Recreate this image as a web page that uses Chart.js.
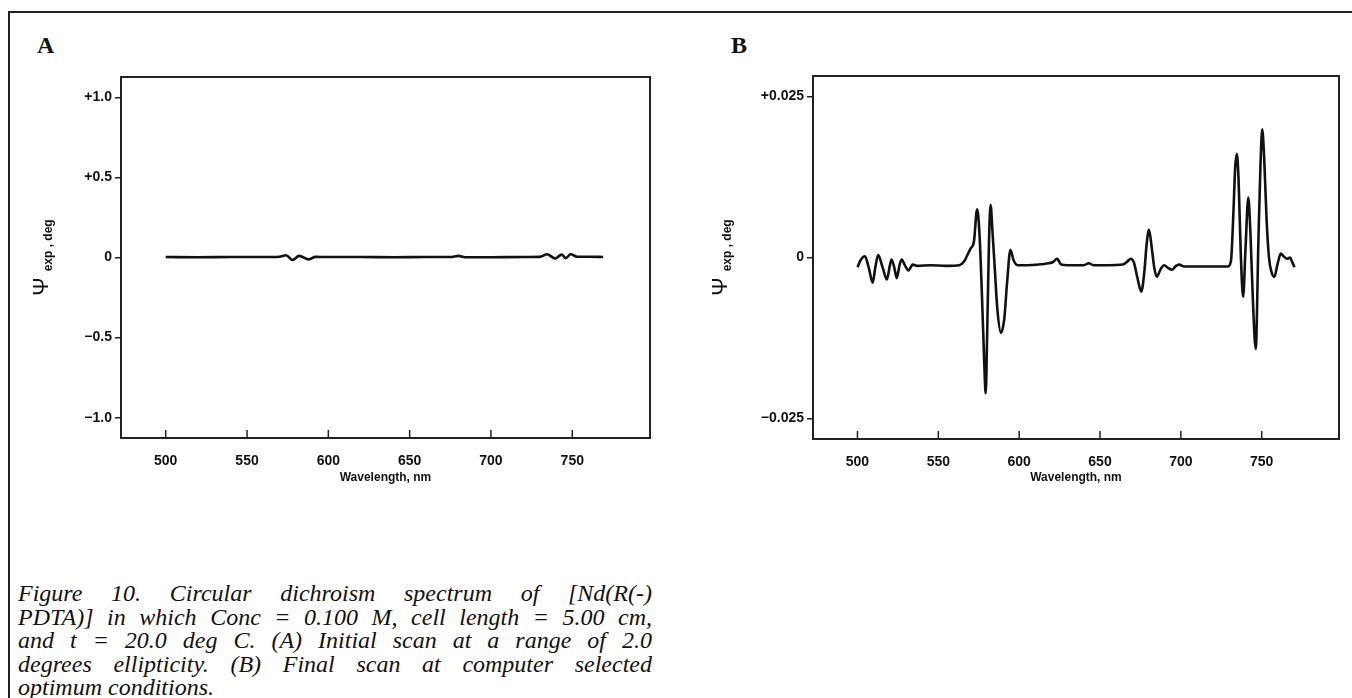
<!DOCTYPE html>
<html lang="en">
<head>
<meta charset="UTF-8">
<title>Figure 10 - CD spectrum of [Nd(R(-)PDTA)]</title>
<script src="https://cdn.jsdelivr.net/npm/chart.js"></script>
<style>
    body {
        margin: 0;
        width: 1352px;
        height: 698px;
        overflow: hidden;
        position: relative;
        background: #fff;
        font-family: "Liberation Sans", Arial, sans-serif;
    }
    #frame {
        position: absolute;
        left: 8px; top: 11px; right: -4px; bottom: -4px;
        border-top: 2px solid #222;
        border-left: 2px solid #222;
    }
    .panel { position: absolute; top: 0; }
    .letter {
        position: absolute;
        top: 32px;
        font: bold 24px "Liberation Serif", "Times New Roman", serif;
        color: #111;
    }
    #caption {
        position: absolute;
        left: 18px; top: 582px; width: 634px;
        font: italic 24px/23.5px "Liberation Serif", "Times New Roman", serif;
        color: #111;
    }
    #caption div { text-align: justify; text-align-last: justify; white-space: nowrap; }
    #caption div.last { text-align-last: left; }
</style>
</head>
<body>
<div id="frame"></div>
<div class="letter" style="left:37px">A</div>
<div class="letter" style="left:731px">B</div>
<div class="panel" style="left:0px"><canvas id="chartA" width="680" height="500"></canvas></div>
<div class="panel" style="left:680px"><canvas id="chartB" width="672" height="500"></canvas></div>
<div id="caption">
    <div>Figure 10. Circular dichroism spectrum of [Nd(R(-)</div>
    <div>PDTA)] in which Conc = 0.100 M, cell length = 5.00 cm,</div>
    <div>and t = 20.0 deg C. (A) Initial scan at a range of 2.0</div>
    <div>degrees ellipticity. (B) Final scan at computer selected</div>
    <div class="last">optimum conditions.</div>
</div>

<script>
// x axis (both panels)
const xTicks = [500, 550, 600, 650, 700, 750];
const xLabels = ['500', '550', '600', '650', '700', '750'];

// panel A: initial scan, range 2.0 deg
const yTicksA = [-1, -0.5, 0, 0.5, 1];
const yLabelsA = ['\u22121.0', '\u22120.5', '0', '+0.5', '+1.0'];
const wlA = [500, 520, 540, 560, 570, 574, 578, 582, 588, 592,
             600, 620, 640, 660, 675, 680, 684, 700, 720, 730,
             734.5, 739.5, 743.5, 746, 749, 753, 760, 769];
const psiA = [0.003, 0.002, 0.003, 0.003, 0.005, 0.014, -0.016, 0.010, -0.012, 0.004,
              0.003, 0.003, 0.002, 0.003, 0.003, 0.010, 0.002, 0.002, 0.003, 0.004,
              0.020, -0.006, 0.018, -0.004, 0.020, 0.005, 0.005, 0.003];

// panel B: final scan
const yTicksB = [-0.025, 0, 0.025];
const yLabelsB = ['\u22120.025', '0', '+0.025'];
const wlB = [500, 502, 504.6, 507, 509.4, 511, 512.8, 515.5, 518.2, 520,
             521.1, 522.8, 524.3, 526, 527.3, 529.5, 531.5, 534.2, 537, 545,
             555, 563, 566, 568, 570, 572, 574, 575.5, 577, 578.5,
             579.3, 580.2, 581.3, 582.3, 583.5, 585, 586.5, 588.7, 590.8, 592.5,
             594.6, 596.5, 599, 605, 612, 618, 621, 623.4, 626, 630,
             640, 643, 646, 655, 664, 667, 669, 671, 673, 675.5,
             677.5, 678.8, 680.3, 682, 683.5, 685.1, 687.5, 689.7, 692, 694.5,
             697, 699, 702, 710, 720, 729, 731, 732.5, 733.6, 734.6,
             735.7, 737, 738.5, 740, 741.7, 743, 744.6, 746.3, 748, 749.2,
             750.3, 751.6, 753, 754.5, 756, 757.8, 760, 761.8, 763.5, 765.8,
             767.5, 769, 770.3];
const psiB = [-0.0015, -0.0004, 0.0002, -0.0016, -0.0039, -0.0016, 0.0004, -0.0015, -0.0034, -0.0013,
              -0.0003, -0.0016, -0.0032, -0.0012, -0.0003, -0.0013, -0.0020, -0.0011, -0.0013, -0.0012,
              -0.0013, -0.0012, -0.0006, 0.0004, 0.0014, 0.0024, 0.0075, 0.0035, -0.0060, -0.0170,
              -0.0211, -0.0120, 0.0020, 0.0082, 0.0040, -0.0020, -0.0080, -0.0117, -0.0095, -0.0040,
              0.0012, -0.0004, -0.0012, -0.0012, -0.0011, -0.0009, -0.0007, -0.0002, -0.0011, -0.0012,
              -0.0012, -0.0009, -0.0012, -0.0012, -0.0011, -0.0006, -0.0002, -0.0008, -0.0030, -0.0053,
              -0.0020, 0.0020, 0.0043, 0.0015, -0.0015, -0.0030, -0.0018, -0.0012, -0.0016, -0.0019,
              -0.0013, -0.0011, -0.0014, -0.0014, -0.0014, -0.0014, -0.0005, 0.0070, 0.0140, 0.0161,
              0.0120, 0.0010, -0.0061, 0.0015, 0.0093, 0.0040, -0.0070, -0.0142, 0.0030, 0.0140,
              0.0199, 0.0150, 0.0060, 0.0000, -0.0022, -0.0030, -0.0008, 0.0006, 0.0002, -0.0002,
              0.0000, -0.0008, -0.0015];

Chart.defaults.font.family = '"Liberation Sans", Arial, sans-serif';
Chart.defaults.color = '#111';

// box around the plot area + inward ticks on the wavelength axis
const boxPlugin = {
    id: 'box',
    afterDatasetsDraw(chart) {
        const ctx = chart.ctx;
        const area = chart.chartArea;
        const x = chart.scales.x;
        ctx.save();
        ctx.strokeStyle = '#222';
        ctx.lineWidth = 1.5;
        x.ticks.forEach(t => {
            const px = x.getPixelForValue(t.value);
            ctx.beginPath();
            ctx.moveTo(px, area.bottom);
            ctx.lineTo(px, area.bottom - 8);
            ctx.stroke();
        });
        ctx.lineWidth = 2;
        ctx.strokeRect(area.left, area.top, area.right - area.left, area.bottom - area.top);
        ctx.restore();
    }
};

// rotated "Psi_exp , deg" axis title
const psiTitle = {
    id: 'psiTitle',
    afterDraw(chart, args, opts) {
        const ctx = chart.ctx;
        const area = chart.chartArea;
        ctx.save();
        ctx.translate(area.left - opts.offset, (area.top + area.bottom) / 2);
        ctx.rotate(-Math.PI / 2);
        ctx.fillStyle = '#111';
        ctx.textBaseline = 'alphabetic';
        const bigFont = '22px "Liberation Sans", Arial, sans-serif';
        const smallFont = 'bold 12px "Liberation Sans", Arial, sans-serif';
        ctx.font = bigFont;
        const wPsi = ctx.measureText('\u03A8').width;
        ctx.font = smallFont;
        const wRest = ctx.measureText('exp , deg').width;
        const gap = 6;
        const x0 = -(wPsi + gap + wRest) / 2;
        ctx.font = bigFont;
        ctx.fillText('\u03A8', x0, 0);
        ctx.font = smallFont;
        ctx.fillText('exp , deg', x0 + wPsi + gap, 4);
        ctx.restore();
    }
};

function makeChart(id, wl, psi, yMin, yMax, yTicks, yLabels, pad, yWidth, titleOffset) {
    return new Chart(document.getElementById(id), {
        type: 'line',
        data: {
            datasets: [{
                data: wl.map((w, i) => ({ x: w, y: psi[i] })),
                borderColor: '#111',
                borderWidth: 2.6,
                pointRadius: 0,
                fill: false,
                cubicInterpolationMode: 'monotone'
            }]
        },
        options: {
            responsive: false,
            animation: false,
            events: [],
            layout: { padding: { left: 0, right: pad.right, top: pad.top, bottom: 0 } },
            plugins: {
                legend: { display: false },
                tooltip: { enabled: false },
                psiTitle: { offset: titleOffset }
            },
            scales: {
                x: {
                    type: 'linear',
                    min: 472.5,
                    max: 797.8,
                    afterBuildTicks: s => { s.ticks = xTicks.map(v => ({ value: v })); },
                    afterFit: s => { s.height = pad.xHeight; },
                    grid: { display: false },
                    border: { display: false },
                    ticks: {
                        padding: 7,
                        maxRotation: 0,
                        font: { size: 14, weight: 'bold' },
                        callback: (v, i) => xLabels[i]
                    },
                    title: {
                        display: true,
                        text: 'Wavelength, nm',
                        font: { size: 12, weight: 'bold' },
                        padding: { top: 0, bottom: 15 }
                    }
                },
                y: {
                    min: yMin,
                    max: yMax,
                    afterBuildTicks: s => { s.ticks = yTicks.map(v => ({ value: v })); },
                    afterFit: s => { s.width = yWidth; },
                    grid: {
                        drawOnChartArea: false,
                        drawTicks: true,
                        tickLength: 6,
                        color: '#222',
                        lineWidth: 1.5
                    },
                    border: { display: false },
                    ticks: {
                        padding: 3,
                        font: { size: 14, weight: 'bold' },
                        callback: (v, i) => yLabels[i]
                    }
                }
            }
        },
        plugins: [boxPlugin, psiTitle]
    });
}

makeChart('chartA', wlA, psiA, -1.127, 1.127, yTicksA, yLabelsA,
          { right: 30, top: 77, xHeight: 62 }, 121, 73);
makeChart('chartB', wlB, psiB, -0.0282, 0.0282, yTicksB, yLabelsB,
          { right: 13, top: 76, xHeight: 61 }, 133, 86);
</script>
</body>
</html>
